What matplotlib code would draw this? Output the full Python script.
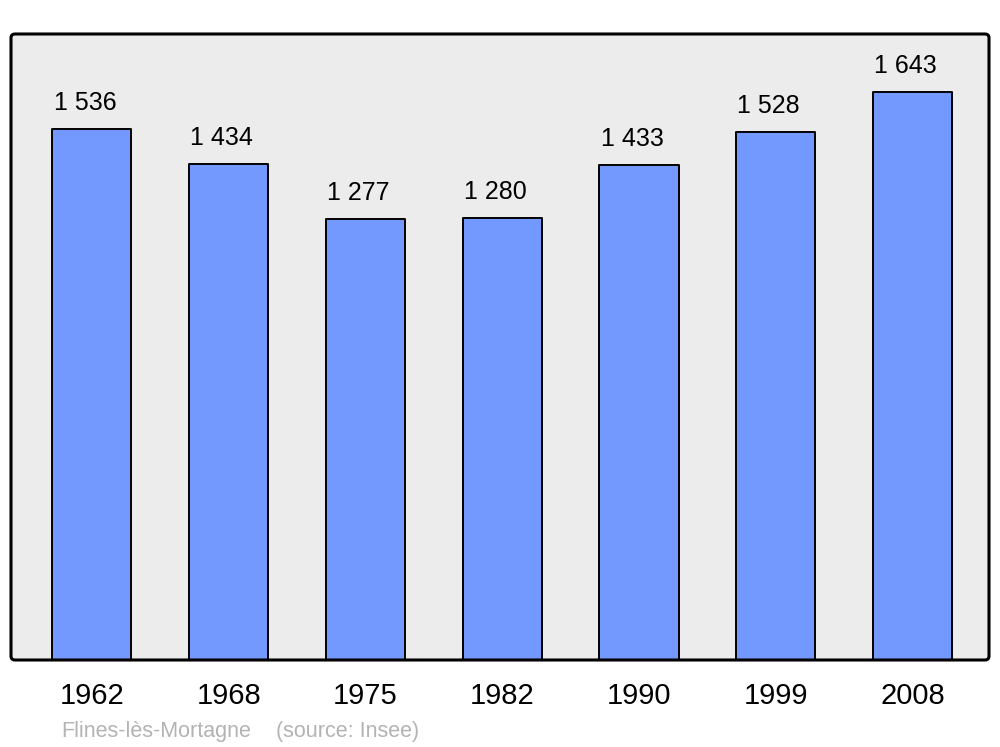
import matplotlib
matplotlib.use("Agg")
import matplotlib.pyplot as plt
from matplotlib.patches import FancyBboxPatch

# population data (Insee)
years = ["1962", "1968", "1975", "1982", "1990", "1999", "2008"]
population = [1536, 1434, 1277, 1280, 1433, 1528, 1643]
town = "Flines-lès-Mortagne"
source = "(source: Insee)"

plt.rcParams["font.family"] = ["Liberation Sans", "DejaVu Sans"]

W, H = 1000, 747
fig = plt.figure(figsize=(W / 100, H / 100), dpi=100)
ax = fig.add_axes([11 / W, (H - 660) / H, 978 / W, 626 / H])
ax.set_facecolor("none")
for s in ax.spines.values():
    s.set_visible(False)

# rounded grey frame: face below bars, edge above
asp = W / H
frame_kw = dict(boxstyle="round,pad=0,rounding_size=0.004", mutation_aspect=asp,
                transform=fig.transFigure)
x0, y0, w, h = 11 / W, (H - 660) / H, 978 / W, 626 / H
fig.patches.append(FancyBboxPatch((x0, y0), w, h, facecolor="#ececec",
                                  edgecolor="none", zorder=-1, **frame_kw))

xs = list(range(len(years)))
ax.bar(xs, population, width=0.578, color="#7399ff", edgecolor="black",
       linewidth=1.4, joinstyle="round", zorder=2)

for x, v in zip(xs, population):
    label = f"{v:,}".replace(",", " ")
    ax.annotate(label, (x, v), xytext=(-7, 19), textcoords="offset pixels",
                ha="center", va="baseline", fontsize=18, color="black")

ax.set_xlim(-0.592, 6.559)
ax.set_ylim(0, 1811)
ax.set_yticks([])
ax.set_xticks(xs)
ax.set_xticklabels(years, fontsize=21)
ax.tick_params(axis="x", length=0, pad=16)

fig.patches.append(FancyBboxPatch((x0, y0), w, h, facecolor="none",
                                  edgecolor="black", linewidth=2.2, zorder=5, **frame_kw))

fig.text(61 / W, 1 - 731 / H, town, fontsize=15.5, color="#b3b3b3", va="center")
fig.text(276 / W, 1 - 731 / H, source, fontsize=15.5, color="#b3b3b3", va="center")

fig.savefig("out.png", dpi=100)
